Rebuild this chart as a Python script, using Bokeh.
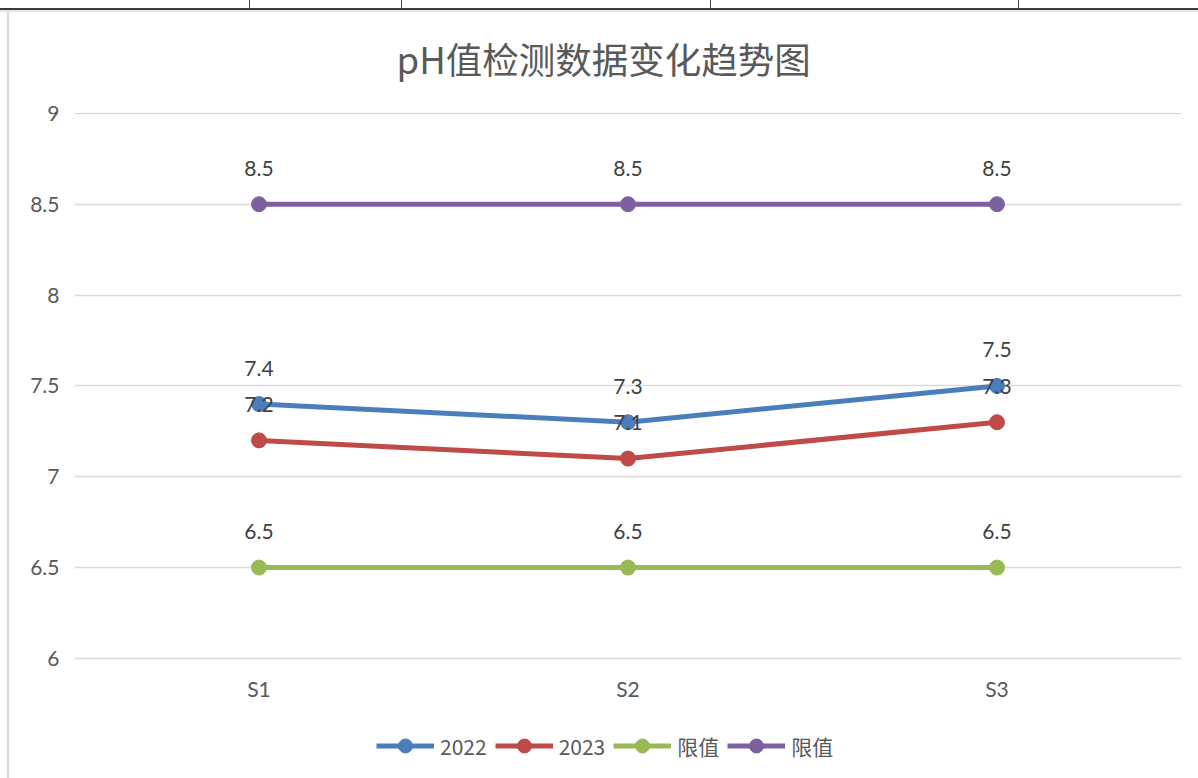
from bokeh.plotting import figure
from bokeh.models import (FactorRange, Range1d, FixedTicker, Legend, LegendItem,
                          ColumnDataSource)
from bokeh.core.properties import value
from bokeh.embed import file_html
from bokeh.resources import INLINE

# ---- data ----
title_text = "pH值检测数据变化趋势图"
categories = ["S1", "S2", "S3"]
series_names = ["2022", "2023", "限值", "限值"]
ph_2022 = [7.4, 7.3, 7.5]
ph_2023 = [7.2, 7.1, 7.3]
limit_low = [6.5, 6.5, 6.5]
limit_high = [8.5, 8.5, 8.5]
label_2022 = ["7.4", "7.3", "7.5"]
label_2023 = ["7.2", "7.1", "7.3"]
label_low = ["6.5", "6.5", "6.5"]
label_high = ["8.5", "8.5", "8.5"]
y_ticks = [6, 6.5, 7, 7.5, 8, 8.5, 9]
y_tick_labels = ["6", "6.5", "7", "7.5", "8", "8.5", "9"]

colors = ["#4A7EBB", "#BE4B48", "#98B954", "#7D60A0"]
FONT = "Lato"
CJK = "Noto Sans CJK SC"
GRAY = "#595959"

# frame: top edge at y=9.005, extended below the axis down to the page bottom
px_per_unit = 545 / 3.0
frame_h = 778 - 112
y_top = 9.005
y_bottom = y_top - frame_h / px_per_unit

p = figure(width=1198, height=778, x_range=FactorRange(*categories, range_padding=0),
           y_range=Range1d(y_bottom, y_top), output_backend="svg", toolbar_location=None,
           min_border_left=74, min_border_right=17, min_border_top=112, min_border_bottom=0)
p.outline_line_color = None
p.background_fill_alpha = 0
p.border_fill_alpha = 0
p.styles = {
    "background-color": "white",
    "background-image": ", ".join(["linear-gradient(#3a3a3a, #3a3a3a)",
                                   "linear-gradient(#e6e6e6, #e6e6e6)",
                                   "linear-gradient(#d9d9d9, #d9d9d9)"]
                                  + ["linear-gradient(#444, #444)"] * 4),
    "background-size": "1198px 2px, 1198px 2px, 2px 770px, 1px 9px, 1px 9px, 1px 9px, 1px 9px",
    "background-position": "0px 8px, 0px 10px, 7px 10px, 249px 0px, 401px 0px, 710px 0px, 1018px 0px",
    "background-repeat": "no-repeat",
}

p.title.text = title_text
p.title.align = "left"
p.title.text_font = CJK
p.title.text_font_style = "normal"
p.title.text_font_size = "36.5px"
p.title.text_color = GRAY
p.title.standoff = 55
p.title.offset = 322

p.xgrid.grid_line_color = None
p.ygrid.grid_line_color = "#D9D9D9"
p.ygrid.grid_line_width = 1.5
p.yaxis.ticker = FixedTicker(ticks=y_ticks)
p.yaxis.major_label_overrides = {t: l for t, l in zip(y_ticks, y_tick_labels)}
for ax in (p.xaxis, p.yaxis):
    ax.axis_line_color = None
    ax.major_tick_line_color = None
    ax.minor_tick_line_color = None
    ax.major_label_text_font = FONT
    ax.major_label_text_font_size = "21px"
    ax.major_label_text_color = GRAY
p.yaxis.major_label_standoff = 9
p.xaxis.fixed_location = y_ticks[0]
p.xaxis.major_label_standoff = 12

all_series = [ph_2022, ph_2023, limit_low, limit_high]
all_labels = [label_2022, label_2023, label_low, label_high]
items = []
for name, vals, col in zip(series_names, all_series, colors):
    src = ColumnDataSource(dict(x=categories, y=vals))
    ln = p.line("x", "y", source=src, line_color=col, line_width=5)
    sc = p.scatter("x", "y", source=src, size=15, fill_color=col, line_color=col)
    items.append(LegendItem(label=name, renderers=[ln, sc]))

for vals, labs in zip(all_series, all_labels):
    src = ColumnDataSource(dict(x=categories, y=vals, t=labs))
    p.text("x", "y", text="t", source=src, y_offset=-36, text_align="center",
           text_baseline="middle", text_font=value(FONT), text_font_size="21px",
           text_color="#404040")

legend = Legend(items=items, orientation="horizontal", location=(302, 15),
                label_text_font=CJK, label_text_font_size="21px", label_text_color=GRAY,
                glyph_width=58, glyph_height=35, spacing=8, label_standoff=6,
                border_line_color=None, background_fill_alpha=0, margin=0, padding=0)
p.add_layout(legend, "center")

open("out.html", "w").write(file_html(p, INLINE))
